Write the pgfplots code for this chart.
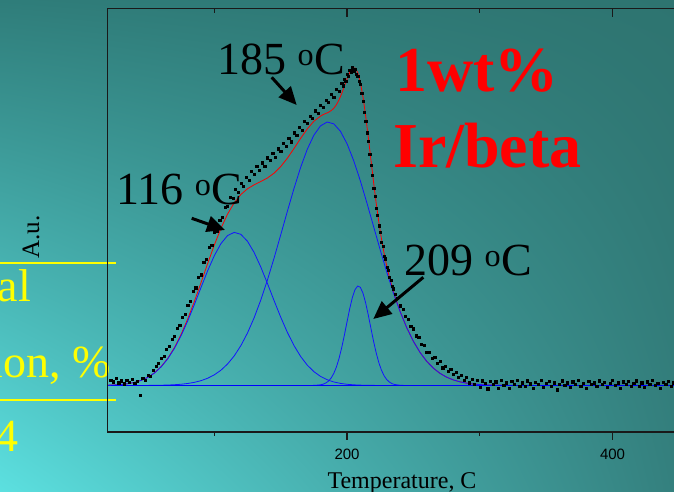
\documentclass[border=0pt]{standalone}
\usepackage{fontspec}
\setmainfont{Liberation Serif}
\newfontfamily\arialfont{Liberation Sans}
\usepackage{pgfplots}
\pgfplotsset{compat=1.18}
\usetikzlibrary{arrows.meta,shadings}
\definecolor{bgUL}{RGB}{47,125,122}
\definecolor{bgUR}{RGB}{46,116,112}
\definecolor{bgLL}{RGB}{92,224,224}
\definecolor{bgLR}{RGB}{52,128,126}
\definecolor{cblue}{RGB}{20,20,255}
\definecolor{cyel}{RGB}{255,255,0}
\begin{document}
\begin{tikzpicture}
\shade[upper left=bgUL, upper right=bgUR, lower left=bgLL, lower right=bgLR] (0pt,0pt) rectangle (674pt,492pt);
% remnants of slide table on the left
\draw[cyel, line width=2pt] (0pt,229pt) -- (116pt,229pt);
\draw[cyel, line width=2pt] (0pt,92pt) -- (116pt,92pt);
\node[anchor=base east, inner sep=0pt, text=cyel, font=\fontsize{46}{46}\selectfont] at (31pt,190pt) {Total};
\node[anchor=base east, inner sep=0pt, text=cyel, font=\fontsize{46}{46}\selectfont] at (111pt,114pt) {Conversion, \%};
\node[anchor=base east, inner sep=0pt, text=cyel, font=\fontsize{46}{46}\selectfont] at (19pt,40pt) {14};
\begin{axis}[
  at={(107.7pt,60pt)}, anchor=south west,
  width=584.5pt, height=423.3pt, scale only axis,
  xmin=19.7, xmax=460, ymin=-0.99, ymax=8.02,
  axis line style={line width=1.2pt, black!90},
  xtick={200,400}, minor xtick={100,300}, xtick pos=left,
  ytick=\empty,
  tick align=outside,
  major tick length=8pt, minor tick length=4pt,
  tick style={line width=1.2pt, black!90},
  /pgf/number format/assume math mode=true,
  xticklabel style={font=\arialfont\fontsize{15}{15}\selectfont, text=black, yshift=-5pt},
  clip=true,
]
\addplot[red, line width=0.8pt] coordinates {(19.7,0.006)(20,0.0065)(25,0.0122)(30,0.0222)(35,0.0391)(40,0.0666)(45,0.1096)(50,0.1741)(55,0.270)(60,0.403)(65,0.580)(70,0.808)(75,1.088)(80,1.418)(85,1.790)(90,2.189)(95,2.596)(100,2.989)(105,3.345)(110,3.649)(115,3.889)(120,4.065)(125,4.187)(130,4.271)(135,4.341)(140,4.416)(145,4.519)(150,4.659)(155,4.836)(160,5.042)(165,5.259)(170,5.460)(175,5.624)(180,5.734)(182,5.766)(184,5.790)(186,5.815)(188,5.850)(190,5.900)(192,5.977)(194,6.082)(196,6.216)(198,6.370)(200,6.528)(202,6.664)(204,6.752)(206,6.759)(208,6.663)(210,6.456)(212,6.143)(214,5.743)(216,5.284)(218,4.800)(220,4.322)(222,3.870)(224,3.465)(226,3.107)(228,2.797)(230,2.530)(232,2.296)(234,2.089)(236,1.902)(240,1.575)(245,1.2275)(250,0.939)(255,0.702)(260,0.514)(265,0.369)(270,0.259)(275,0.177)(280,0.119)(285,0.078)(290,0.050)(295,0.032)(300,0.020)(305,0.012)(310,0.007)(320,0.002)(330,0)(460,0)};
\addplot[cblue, line width=0.8pt] coordinates {(20,0.0065)(25,0.0122)(30,0.0222)(35,0.0391)(40,0.0666)(45,0.1096)(50,0.1741)(55,0.2676)(60,0.3975)(65,0.5705)(70,0.7913)(75,1.0615)(80,1.3757)(85,1.7232)(90,2.0868)(95,2.4421)(100,2.7622)(105,3.0197)(110,3.1912)(115,3.2592)(120,3.2173)(125,3.0696)(130,2.8307)(135,2.5232)(140,2.1734)(145,1.8096)(150,1.4566)(155,1.1329)(160,0.8518)(165,0.6191)(170,0.4346)(175,0.2950)(180,0.1936)(185,0.1229)(190,0.0753)(195,0.0446)(200,0.0255)(205,0.0141)(210,0.0076)(215,0.0039)(220,0.002)(230,0)(460,0)};
\addplot[cblue, line width=0.8pt] coordinates {(19.7,0)(50,0.0017)(55,0.003)(60,0.0057)(65,0.0097)(70,0.0163)(75,0.0266)(80,0.0427)(85,0.0669)(90,0.1026)(95,0.1541)(100,0.2264)(105,0.3252)(110,0.4578)(115,0.6295)(120,0.8480)(125,1.1175)(130,1.4407)(135,1.8176)(140,2.2429)(145,2.7091)(150,3.2022)(155,3.7032)(160,4.1901)(165,4.6395)(170,5.0254)(175,5.3273)(180,5.5258)(185,5.608)(190,5.569)(195,5.4114)(200,5.1449)(205,4.7865)(210,4.3573)(215,3.8810)(220,3.3828)(225,2.8847)(230,2.4073)(235,1.9652)(240,1.5702)(245,1.2275)(250,0.9391)(255,0.7024)(260,0.5144)(265,0.3686)(270,0.2586)(275,0.1773)(280,0.1189)(285,0.0782)(290,0.0503)(295,0.0316)(300,0.0195)(305,0.0117)(310,0.0069)(320,0.002)(330,0)(460,0)};
\addplot[cblue, line width=0.8pt] coordinates {(19.7,0)(172,0)(176,0.003)(180,0.0141)(182,0.0278)(184,0.0522)(186,0.0931)(188,0.1584)(190,0.2563)(192,0.3950)(194,0.5790)(196,0.8081)(198,1.0734)(200,1.3572)(202,1.6333)(204,1.8709)(206,2.0397)(208,2.1168)(210,2.0908)(212,1.9657)(214,1.7590)(216,1.4982)(218,1.2146)(220,0.9371)(222,0.6883)(224,0.4811)(226,0.3201)(228,0.2026)(230,0.1223)(232,0.0702)(234,0.0383)(236,0.0199)(240,0.0046)(244,0)(460,0)};
\addplot[only marks, mark=square*, mark size=1.1pt, black] table {
x y
22 0.12
24 0.08
26 0.15
28 0.06
30 0.10
32 0.04
34 0.11
36 0.07
38 0.13
40 0.05
42 0.09
44 -0.21
46 0.16
48 0.12
50 0.22
52 0.19
54 0.33
56 0.41
58 0.47
60 0.58
62 0.62
64 0.77
66 0.83
68 0.98
70 1.05
72 1.22
74 1.28
76 1.46
78 1.52
80 1.71
82 1.80
84 2.01
86 2.08
88 2.30
90 2.36
92 2.62
94 2.68
96 2.95
98 2.99
100 3.27
102 3.29
104 3.52
106 3.58
108 3.79
110 3.82
112 4.01
114 3.98
116 4.17
118 4.12
120 4.31
122 4.24
124 4.43
126 4.37
128 4.56
130 4.49
132 4.67
134 4.58
136 4.74
138 4.66
140 4.85
142 4.79
144 4.95
146 4.86
148 5.04
150 4.98
152 5.16
154 5.09
156 5.27
158 5.19
160 5.38
162 5.33
164 5.50
166 5.44
168 5.63
170 5.58
172 5.74
174 5.69
176 5.85
178 5.80
180 5.96
182 5.92
184 6.08
186 6.03
188 6.20
190 6.14
192 6.30
194 6.27
196 6.44
197 6.38
198 6.52
199 6.47
200 6.63
201 6.58
202 6.71
203 6.66
204 6.78
205 6.70
206 6.74
207 6.62
208 6.59
209 6.48
210 6.41
211 6.22
212 6.05
213 5.82
214 5.63
215 5.38
216 5.20
217 4.93
218 4.69
219 4.48
220 4.20
221 4.03
222 3.78
223 3.62
224 3.40
225 3.26
226 3.05
227 2.96
228 2.76
229 2.70
230 2.52
231 2.46
232 2.31
233 2.24
234 2.12
235 2.06
236 1.95
238 1.86
240 1.70
242 1.63
244 1.48
246 1.41
248 1.26
250 1.21
252 1.06
254 1.02
256 0.88
258 0.86
260 0.71
262 0.70
264 0.58
266 0.61
268 0.47
270 0.51
272 0.38
274 0.41
276 0.30
278 0.34
280 0.24
282 0.28
284 0.17
286 0.22
288 0.12
290 0.18
292 0.06
294 0.14
296 0.03
298 0.11
300 -0.04
302 0.10
304 0.05
306 -0.07
308 0.09
310 0.02
312 0.08
314 -0.05
316 0.12
318 0.01
320 0.06
322 -0.06
324 0.09
326 0.03
328 0.11
330 -0.02
332 0.06
334 -0.01
336 0.10
338 0.04
340 -0.05
342 0.07
344 0.02
346 0.11
348 -0.03
350 0.05
352 0.09
354 -0.01
356 0.06
358 -0.09
360 0.03
362 0.10
364 0.01
366 0.06
368 -0.04
370 0.08
372 0.03
374 0.12
376 -0.01
378 0.05
380 -0.05
382 0.09
384 0.02
386 0.06
388 -0.02
390 0.10
392 0.03
394 0.07
396 -0.04
398 0.05
400 0.11
402 0.01
404 0.06
406 -0.05
408 0.08
410 0.02
412 0.09
414 -0.02
416 0.05
418 0.10
420 -0.01
422 0.06
424 -0.04
426 0.08
428 0.03
430 0.11
432 0.01
434 0.05
436 -0.05
438 0.07
440 0.02
442 0.09
444 -0.01
446 0.06
448 0.03
450 0.07
};
\addplot[blue, line width=1.6pt] coordinates {(22,0) (460,0)};
\end{axis}
\begin{axis}[
  at={(107.7pt,60pt)}, anchor=south west,
  width=584.5pt, height=423.3pt, scale only axis,
  xmin=19.7, xmax=460, ymin=-0.99, ymax=8.02,
  axis line style={line width=1.2pt, black!90},
  xtick={200,400}, minor xtick={100,300}, xtick pos=right, xticklabels={},
  ytick=\empty, minor ytick={0,1,2,3,4,5,6,7}, ytick pos=left,
  tick align=inside,
  major tick length=8pt, minor tick length=4pt,
  tick style={line width=1.2pt, black!90},
]
\addplot[draw=none] coordinates {(100,1)};
\end{axis}
% annotations
\node[anchor=base west, inner sep=0pt, font=\fontsize{46}{46}\selectfont] at (217pt,417pt) {185 \textsuperscript{o}C};
\node[anchor=base west, inner sep=0pt, font=\fontsize{46}{46}\selectfont] at (116pt,287pt) {116 \textsuperscript{o}C};
\node[anchor=base west, inner sep=0pt, font=\fontsize{46}{46}\selectfont] at (404pt,216pt) {209 \textsuperscript{o}C};
\node[anchor=base west, inner sep=0pt, text=red, font=\fontsize{64}{64}\selectfont\bfseries] at (395pt,400.3pt) {1wt\%};
\node[anchor=base west, inner sep=0pt, text=red, font=\fontsize{64}{64}\selectfont\bfseries] at (393pt,324pt) {Ir/beta};
\draw[line width=3pt, -{Triangle[length=18pt,width=16pt]}] (271.7pt,414.7pt) -- (296.7pt,387pt);
\draw[line width=3pt, -{Triangle[length=18pt,width=16pt]}] (191.7pt,273.7pt) -- (225pt,262pt);
\draw[line width=3pt, -{Triangle[length=18pt,width=16pt]}] (423.3pt,214.7pt) -- (373.3pt,173pt);
\node[rotate=90, inner sep=0pt, font=\fontsize{25}{25}\selectfont] at (31pt,255pt) {A.u.};
\node[anchor=base, inner sep=0pt, font=\fontsize{24}{24}\selectfont] at (402pt,3pt) {Temperature, C};
\pgfresetboundingbox
\useasboundingbox (0pt,0pt) rectangle (674pt,492pt);
\end{tikzpicture}
\end{document}
